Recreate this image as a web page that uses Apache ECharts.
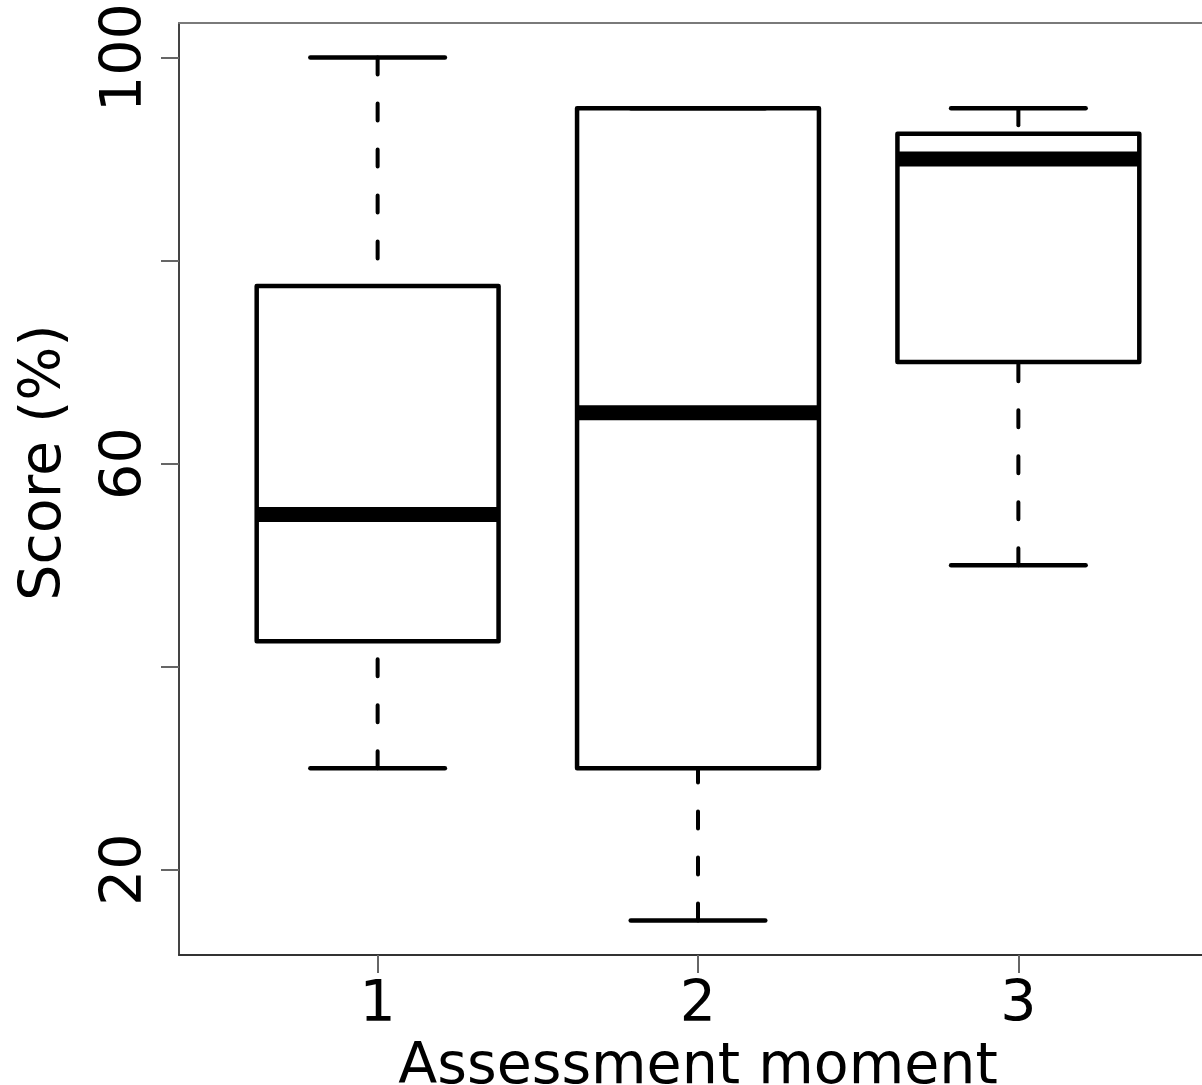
<!DOCTYPE html>
<html><head><meta charset="utf-8">
<script src="https://cdn.jsdelivr.net/npm/echarts@6/dist/echarts.min.js"></script>
<style>html,body{margin:0;padding:0;background:#fff}#chart{width:1202px;height:1085px}</style>
</head><body><div id="chart"></div>
<script>
// ---- data ----
const moments = [1, 2, 3];
const momentLabels = ['1', '2', '3'];
const lowerWhisker = [30, 15, 50];
const lowerQuartile = [42.5, 30, 70];
const medianScore = [55, 65, 90];
const upperQuartile = [77.5, 95, 92.5];
const upperWhisker = [100, 95, 95];
const yTicks = [20, 40, 60, 80, 100];
const yTickLabels = [20, 60, 100];

const boxData = moments.map((m, i) => [m, lowerWhisker[i], lowerQuartile[i], medianScore[i], upperQuartile[i], upperWhisker[i]]);

const FONT = 'DejaVu Sans';
const BOX_HALF = 0.3775, CAP_HALF = 0.21;

function renderBox(params, api) {
  const x = api.value(0);
  const pLow = api.coord([x, api.value(1)]);
  const pQ1 = api.coord([x, api.value(2)]);
  const pMed = api.coord([x, api.value(3)]);
  const pQ3 = api.coord([x, api.value(4)]);
  const pUp = api.coord([x, api.value(5)]);
  const half = api.size([BOX_HALF, 0])[0];
  const cap = api.size([CAP_HALF, 0])[0];
  const cx = pMed[0];
  const solid = {stroke: '#000', lineWidth: 4.5, lineCap: 'round', lineJoin: 'round', fill: null};
  const dashed = {stroke: '#000', lineWidth: 4, lineCap: 'round', lineDash: [17, 29], fill: null};
  const children = [];
  if (Math.abs(pLow[1] - pQ1[1]) > 1) children.push({type: 'line', shape: {x1: cx, y1: pLow[1], x2: cx, y2: pQ1[1]}, style: dashed});
  if (Math.abs(pUp[1] - pQ3[1]) > 1) children.push({type: 'line', shape: {x1: cx, y1: pUp[1], x2: cx, y2: pQ3[1]}, style: dashed});
  children.push({type: 'line', shape: {x1: cx - cap, y1: pLow[1], x2: cx + cap, y2: pLow[1]}, style: solid});
  children.push({type: 'line', shape: {x1: cx - cap, y1: pUp[1], x2: cx + cap, y2: pUp[1]}, style: solid});
  children.push({type: 'rect', shape: {x: cx - half, y: pQ3[1], width: 2 * half, height: pQ1[1] - pQ3[1]}, style: solid});
  children.push({type: 'line', shape: {x1: cx - half, y1: pMed[1], x2: cx + half, y2: pMed[1]}, style: {stroke: '#000', lineWidth: 15, lineCap: 'butt', fill: null}});
  return {type: 'group', children};
}

const chart = echarts.init(document.getElementById('chart'), null, {renderer: 'canvas'});
chart.setOption({
  animation: false,
  backgroundColor: '#fff',
  grid: {left: 179, top: 23, right: -15, bottom: 130, containLabel: false, outerBoundsMode: 'none'},
  xAxis: [{
    type: 'value', min: 0.38, max: 3.62, position: 'bottom',
    axisLine: {show: true, onZero: false, lineStyle: {color: '#333', width: 2}},
    axisTick: {show: true, length: 18, customValues: moments, lineStyle: {color: '#666', width: 2}},
    axisLabel: {customValues: moments, formatter: v => momentLabels[moments.indexOf(v)], margin: 23, fontSize: 57, fontFamily: FONT, color: '#000'},
    splitLine: {show: false},
    name: 'Assessment moment', nameLocation: 'middle', nameGap: 77,
    nameTextStyle: {fontSize: 57, fontFamily: FONT, color: '#000'}
  }, {
    type: 'value', min: 0.38, max: 3.62, position: 'top',
    axisLine: {show: true, onZero: false, lineStyle: {color: '#7a7a7a', width: 2}},
    axisTick: {show: false}, axisLabel: {show: false}, splitLine: {show: false}
  }],
  yAxis: {
    type: 'value', min: 11.6, max: 103.4,
    axisLine: {show: true, onZero: false, lineStyle: {color: '#444', width: 2}},
    axisTick: {show: true, length: 18, customValues: yTicks, lineStyle: {color: '#666', width: 2}},
    axisLabel: {customValues: yTickLabels, rotate: 90, margin: 24, fontSize: 57, fontFamily: FONT, color: '#000'},
    splitLine: {show: false},
    name: 'Score (%)', nameLocation: 'middle', nameRotate: 90, nameGap: 105,
    nameTextStyle: {fontSize: 57, fontFamily: FONT, color: '#000', padding: [0, 0, 0, 53]}
  },
  series: [{
    type: 'custom', xAxisIndex: 0, yAxisIndex: 0,
    renderItem: renderBox,
    data: boxData,
    clip: false
  }]
});
</script></body></html>
